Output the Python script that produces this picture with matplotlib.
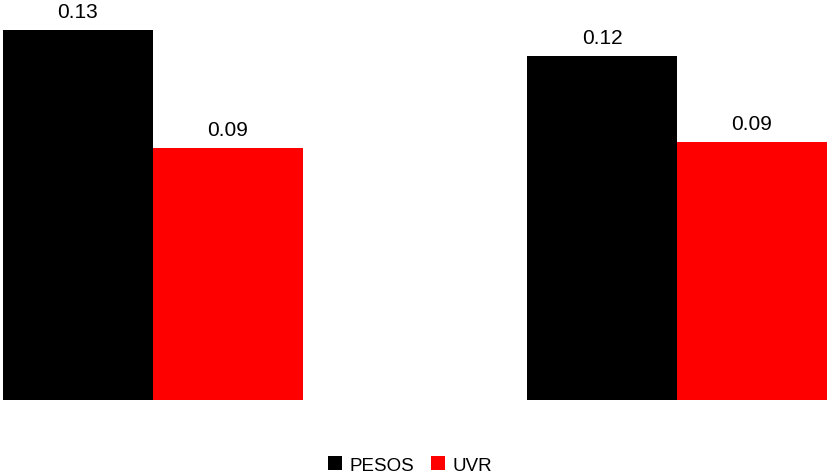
import matplotlib
matplotlib.use("Agg")
import matplotlib.pyplot as plt
import numpy as np

plt.rcParams['font.family'] = ['Liberation Sans', 'DejaVu Sans']

groups = ["A", "B"]
series = ["PESOS", "UVR"]
pesos = [0.130, 0.121]
uvr = [0.0885, 0.0907]
colors = ["#000000", "#ff0000"]

fig = plt.figure(figsize=(8.29, 4.77), dpi=100)
ax = fig.add_axes([3 / 829, 76 / 477, 824 / 829, 401 / 477])

x = np.arange(len(groups))
w = 150 / 524
b1 = ax.bar(x - w / 2, pesos, width=w, color=colors[0], label=series[0])
b2 = ax.bar(x + w / 2, uvr, width=w, color=colors[1], label=series[1])

for bars in (b1, b2):
    for rect in bars:
        h = rect.get_height()
        ax.annotate(f"{h:.2f}", (rect.get_x() + rect.get_width() / 2, h),
                    xytext=(0, 6.5), textcoords="offset points",
                    ha="center", va="bottom", fontsize=15)

ax.set_xlim(-w, 1 + w)
ax.set_ylim(0, 401 / 2846)
ax.axis("off")

fig.legend(loc="center", bbox_to_anchor=(410 / 829, 11 / 477), ncol=2,
           frameon=False, fontsize=13.5, handlelength=0.75, handleheight=0.75,
           handletextpad=0.4, columnspacing=0.9)

fig.savefig("out.png", dpi=100)
